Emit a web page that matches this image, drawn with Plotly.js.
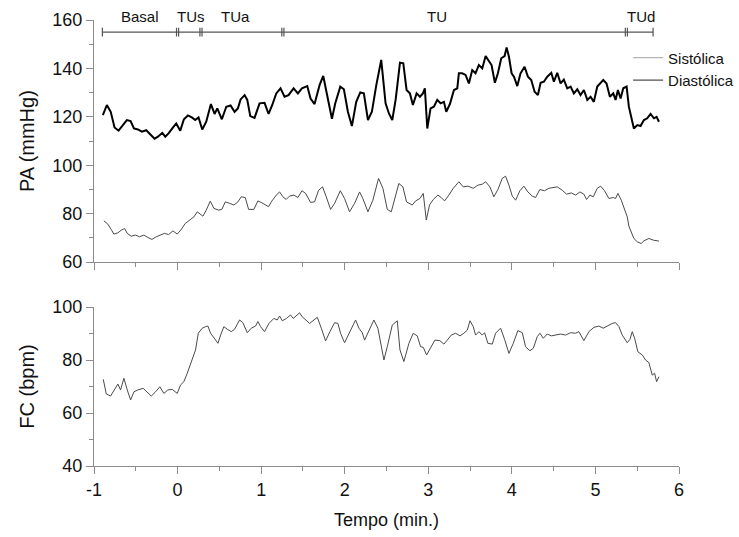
<!DOCTYPE html>
<html>
<head>
<meta charset="utf-8">
<script src="https://cdn.plot.ly/plotly-3.0.1.min.js"></script>
<style>
  html, body { margin: 0; padding: 0; background: #fff; }
  #chart { width: 739px; height: 537px; }
</style>
</head>
<body>
<div id="chart"></div>
<script>
// Pressão arterial sistólica (mmHg) ao longo do tempo (min.)
const sysT = [-0.894,-0.846,-0.800,-0.754,-0.706,-0.654,-0.607,-0.562,-0.522,-0.475,-0.427,-0.375,-0.327,-0.275,-0.235,-0.183,-0.147,-0.108,-0.056,-0.016,
  0.032,0.076,0.124,0.171,0.211,0.251,0.295,0.343,0.399,0.443,0.475,0.530,0.583,0.634,0.682,0.722,0.754,0.802,0.834,0.870,0.921,0.981,
  1.041,1.089,1.133,1.181,1.232,1.280,1.328,1.388,1.440,1.488,1.552,1.591,1.639,1.699,1.743,1.799,1.847,1.887,1.947,1.990,
  2.038,2.086,2.138,2.186,2.229,2.278,2.325,2.378,2.437,2.489,2.529,2.569,2.609,2.637,2.661,2.701,2.740,2.780,2.816,2.860,2.900,2.936,2.959,2.988,
  3.027,3.067,3.107,3.147,3.187,3.215,3.259,3.307,3.347,3.366,3.406,3.446,3.486,3.526,3.565,3.605,3.646,3.686,3.725,3.757,3.797,3.833,3.873,3.913,3.937,3.965,3.997,
  4.025,4.065,4.104,4.152,4.192,4.232,4.272,4.312,4.344,4.383,4.424,4.472,4.503,4.543,4.583,4.622,4.663,4.703,4.742,4.783,4.822,4.862,4.903,4.942,4.981,
  5.022,5.062,5.094,5.133,5.173,5.214,5.241,5.269,5.301,5.333,5.373,5.400,5.429,5.460,5.501,5.540,5.580,5.620,5.660,5.700,5.732,5.760];
const sysV = [120.7,124.9,122.1,115.6,114.3,116.6,118.7,118.3,115.2,114.8,113.9,114.5,112.9,111.0,111.8,113.4,111.8,113.2,115.6,117.3,
  114.3,119.0,120.6,119.8,118.7,119.8,114.8,118.0,125.3,121.2,123.5,119.0,124.2,124.7,122.1,123.5,127.2,129.0,127.0,120.3,119.6,125.6,
  125.8,121.2,124.9,129.7,131.8,128.3,129.0,131.8,129.7,131.8,132.7,127.6,125.3,133.1,136.9,127.0,119.2,125.6,132.5,131.4,
  122.1,116.2,126.2,130.1,129.7,118.7,122.1,133.1,143.5,125.6,121.4,118.7,127.0,135.2,142.4,142.1,131.1,129.7,124.9,129.7,128.3,129.7,131.8,115.2,
  123.5,124.2,127.0,125.6,126.2,122.1,125.3,131.1,131.8,138.0,138.0,137.3,133.8,139.3,138.0,141.4,140.0,145.1,142.8,141.4,134.1,138.0,144.2,145.1,148.7,144.8,138.0,
  136.6,132.7,138.0,140.7,136.6,135.2,130.4,129.0,134.1,134.5,136.6,138.2,134.5,138.2,133.8,135.4,131.8,132.5,129.7,131.4,129.0,131.1,127.0,128.3,126.2,
  132.5,134.1,135.2,133.8,128.3,129.7,127.0,131.1,127.6,131.8,132.5,124.2,120.0,115.2,116.6,116.2,118.7,119.4,121.2,119.4,120.0,118.0];

// Pressão arterial diastólica (mmHg)
const diaT = [-0.882,-0.834,-0.794,-0.762,-0.714,-0.674,-0.634,-0.602,-0.554,-0.506,-0.455,-0.403,-0.355,-0.307,-0.255,-0.203,-0.156,-0.108,-0.056,-0.004,
  0.044,0.092,0.144,0.195,0.236,0.275,0.303,0.343,0.391,0.435,0.491,0.530,0.571,0.622,0.674,0.722,0.762,0.810,0.850,0.913,0.961,
  1.009,1.061,1.089,1.121,1.181,1.221,1.260,1.300,1.340,1.392,1.440,1.488,1.532,1.591,1.639,1.687,1.735,1.779,1.831,1.879,1.947,1.998,
  2.058,2.118,2.178,2.217,2.278,2.337,2.405,2.457,2.509,2.557,2.597,2.648,2.696,2.740,2.808,2.848,2.900,2.940,2.976,
  3.015,3.060,3.115,3.155,3.195,3.247,3.299,3.366,3.419,3.474,3.538,3.594,3.646,3.686,3.737,3.785,3.833,3.885,3.925,3.965,
  4.005,4.045,4.096,4.144,4.192,4.244,4.284,4.335,4.391,4.443,4.495,4.543,4.603,4.655,4.711,4.763,4.814,4.862,4.894,4.934,4.974,
  5.022,5.062,5.109,5.161,5.214,5.241,5.269,5.309,5.349,5.381,5.400,5.429,5.460,5.501,5.548,5.580,5.640,5.692,5.760];
const diaV = [77.1,75.7,73.5,71.6,72.1,73.2,73.9,71.9,70.7,71.2,70.5,71.2,70.2,69.4,70.5,71.2,71.9,71.4,72.9,71.6,
  73.5,76.0,77.4,78.7,80.8,79.8,79.0,81.5,85.2,82.2,81.5,81.8,84.9,84.3,83.6,84.9,87.0,86.7,81.8,81.8,85.3,
  84.5,83.6,82.9,84.9,87.7,89.0,87.0,85.9,87.3,87.7,86.7,89.5,88.4,84.7,84.9,89.7,91.1,87.0,81.8,84.3,89.5,86.3,
  80.8,84.3,89.0,86.3,80.8,85.6,94.6,90.5,81.8,80.8,86.3,92.5,91.1,84.9,83.6,85.3,86.3,88.4,77.4,
  83.6,85.9,87.7,86.7,85.3,87.7,90.5,93.2,91.1,91.4,90.5,91.8,92.2,93.2,91.1,87.0,90.0,94.6,95.5,91.8,
  87.3,85.6,89.5,91.4,89.0,87.3,86.7,90.0,89.5,90.5,90.9,91.1,89.7,88.1,88.6,87.7,89.0,88.1,85.9,87.7,87.0,
  90.5,91.4,89.5,86.3,86.7,86.3,88.4,85.6,81.5,78.7,74.9,72.5,69.8,68.4,67.7,68.8,69.8,69.1,68.7];

// Frequência cardíaca (bpm)
const fcT = [-0.889,-0.853,-0.802,-0.762,-0.714,-0.682,-0.642,-0.602,-0.562,-0.522,-0.475,-0.411,-0.363,-0.315,-0.263,-0.212,-0.164,-0.116,-0.063,-0.004,
  0.036,0.075,0.116,0.176,0.215,0.248,0.295,0.335,0.363,0.395,0.443,0.483,0.515,0.554,0.595,0.643,0.682,0.742,0.781,0.834,0.882,0.933,0.961,0.993,
  1.041,1.093,1.152,1.193,1.221,1.253,1.304,1.352,1.384,1.424,1.460,1.492,1.532,1.580,1.620,1.672,1.720,1.771,1.823,1.879,1.919,1.950,1.998,
  2.050,2.130,2.170,2.210,2.238,2.289,2.349,2.397,2.429,2.469,2.509,2.569,2.629,2.661,2.708,2.768,2.820,2.868,2.908,2.940,2.980,
  3.027,3.079,3.139,3.187,3.227,3.275,3.327,3.379,3.426,3.467,3.499,3.538,3.566,3.606,3.646,3.674,3.713,3.766,3.805,3.865,3.913,3.965,
  4.017,4.072,4.125,4.164,4.216,4.256,4.304,4.336,4.376,4.424,4.472,4.523,4.583,4.643,4.703,4.763,4.802,4.862,4.922,4.981,
  5.041,5.094,5.142,5.201,5.241,5.281,5.321,5.381,5.413,5.441,5.469,5.508,5.561,5.600,5.640,5.680,5.708,5.732,5.760];
const fcV = [72.7,67.2,66.4,68.7,70.9,68.7,73.1,68.7,64.9,68.0,68.7,69.3,68.0,66.4,68.0,69.9,67.4,68.7,68.9,67.4,
  70.6,71.8,75.0,80.6,83.8,90.1,92.0,92.6,92.8,90.1,88.2,86.3,89.4,92.6,91.6,90.7,91.6,95.1,94.1,90.3,92.0,92.8,94.5,92.6,
  90.7,93.8,95.7,95.1,96.6,94.8,95.7,97.0,95.7,97.0,97.8,96.3,95.3,93.8,94.8,96.1,92.0,87.2,90.7,94.1,93.8,90.1,86.5,
  90.1,95.1,92.0,90.3,87.5,91.3,95.1,92.0,86.3,80.0,85.0,93.2,94.8,83.8,79.4,86.3,90.1,89.1,85.0,84.8,81.9,
  84.4,87.5,87.3,86.0,87.5,89.4,90.1,89.1,90.1,91.3,94.8,92.6,89.4,90.7,89.4,90.3,86.3,86.0,90.1,92.0,87.8,82.5,
  86.3,91.1,90.3,85.0,83.5,84.4,88.8,90.1,88.2,89.8,89.1,89.4,89.8,89.4,90.3,90.1,90.7,87.3,90.7,92.3,
  92.8,92.0,92.8,93.8,94.1,92.6,89.4,86.5,87.8,90.7,88.2,83.1,81.9,80.0,79.0,74.3,75.0,71.8,73.7];

// Eixo do tempo: posições e rótulos (hífen simples no "-1")
const timeTickVals = [-1, 0, 1, 2, 3, 4, 5, 6];
const timeTickText = ['-1', '0', '1', '2', '3', '4', '5', '6'];

// Fases do protocolo
const phaseNames  = ['Basal', 'TUs', 'TUa', 'TU', 'TUd'];
const phaseLabelX = [-0.45, 0.16, 0.69, 3.10, 5.54];
const phaseEdges  = [-0.90, 0.00, 0.28, 1.26, 5.37, 5.69];

const legendNames = ['Sistólica', 'Diastólica'];

const FONT = 'Arial, "Liberation Sans", sans-serif';
const AXIS_GRAY = '#8c8c8c';

const traces = [
  { x: sysT, y: sysV, xaxis: 'x', yaxis: 'y', mode: 'lines', showlegend: false,
    line: { color: '#000000', width: 2 } },
  { x: diaT, y: diaV, xaxis: 'x', yaxis: 'y', mode: 'lines', showlegend: false,
    line: { color: '#4a4a4a', width: 1 } },
  { x: fcT, y: fcV, xaxis: 'x2', yaxis: 'y2', mode: 'lines', showlegend: false,
    line: { color: '#4a4a4a', width: 1 } },
  // legend keys
  { x: [null], y: [null], xaxis: 'x', yaxis: 'y', mode: 'lines', name: legendNames[0],
    line: { color: '#b4b4b4', width: 1.2 } },
  { x: [null], y: [null], xaxis: 'x', yaxis: 'y', mode: 'lines', name: legendNames[1],
    line: { color: '#505050', width: 1.2 } }
];

// phase bar: horizontal line with end ticks and doubled separators
const BAR_Y = 155, TICK_LO = 153.2, TICK_HI = 156.8, GAP = 0.025;
const shapes = [{
  type: 'line', xref: 'x', yref: 'y',
  x0: phaseEdges[0], x1: phaseEdges[phaseEdges.length - 1], y0: BAR_Y, y1: BAR_Y,
  line: { color: '#555555', width: 1.2 }
}];
phaseEdges.forEach((e, i) => {
  const inner = i > 0 && i < phaseEdges.length - 1;
  const xs = inner ? [e - GAP / 2, e + GAP / 2] : [e];
  xs.forEach(xv => shapes.push({
    type: 'line', xref: 'x', yref: 'y', x0: xv, x1: xv, y0: TICK_LO, y1: TICK_HI,
    line: { color: '#555555', width: 1.2 }
  }));
});

const annotations = phaseNames.map((n, i) => ({
  text: n, xref: 'x', yref: 'paper', x: phaseLabelX[i], y: 1.007,
  xanchor: 'center', yanchor: 'middle', showarrow: false,
  font: { family: FONT, size: 15, color: '#111' }
}));

function xAxis(anchor, labels) {
  return {
    anchor: anchor, range: [-1, 6],
    tickmode: 'array', tickvals: timeTickVals, ticktext: timeTickText,
    showgrid: false, zeroline: false, showline: true, linecolor: AXIS_GRAY, linewidth: 1,
    ticks: 'outside', ticklen: 7, tickcolor: AXIS_GRAY, tickwidth: 1,
    minor: { dtick: 0.5, tick0: 0, ticks: 'outside', ticklen: 4, tickcolor: AXIS_GRAY, showgrid: false },
    showticklabels: labels,
    tickfont: { family: FONT, size: 18, color: '#111' }
  };
}
function yAxis(anchor, range, domain, title) {
  return {
    anchor: anchor, range: range, domain: domain, dtick: 20,
    showgrid: false, zeroline: false, showline: true, linecolor: AXIS_GRAY, linewidth: 1,
    ticks: 'outside', ticklen: 7, tickcolor: AXIS_GRAY, tickwidth: 1,
    minor: { dtick: 10, ticks: 'outside', ticklen: 4, tickcolor: AXIS_GRAY, showgrid: false },
    tickfont: { family: FONT, size: 18, color: '#111' },
    title: { text: title, font: { family: FONT, size: 20, color: '#111' }, standoff: 12 }
  };
}

const xTop = xAxis('y', false);
const xBot = xAxis('y2', true);
xBot.title = { text: 'Tempo (min.)', font: { family: FONT, size: 18, color: '#111' }, standoff: 14 };

const layout = {
  width: 739, height: 537,
  margin: { l: 94, r: 60, t: 20, b: 71, autoexpand: false },
  paper_bgcolor: '#ffffff', plot_bgcolor: '#ffffff',
  font: { family: FONT, color: '#111' },
  xaxis: xTop,
  xaxis2: xBot,
  yaxis: yAxis('x', [60, 160], [0.457, 1], 'PA (mmHg)'),
  yaxis2: yAxis('x2', [40, 100], [0, 0.3565], 'FC (bpm)'),
  showlegend: true,
  legend: {
    x: 0.913, y: 0.952, xanchor: 'left', yanchor: 'top',
    bgcolor: 'rgba(0,0,0,0)', borderwidth: 0,
    font: { family: FONT, size: 15, color: '#111' },
    tracegroupgap: 0, itemwidth: 30
  },
  shapes: shapes,
  annotations: annotations
};

Plotly.newPlot('chart', traces, layout, { displayModeBar: false, staticPlot: true });
</script>
</body>
</html>
